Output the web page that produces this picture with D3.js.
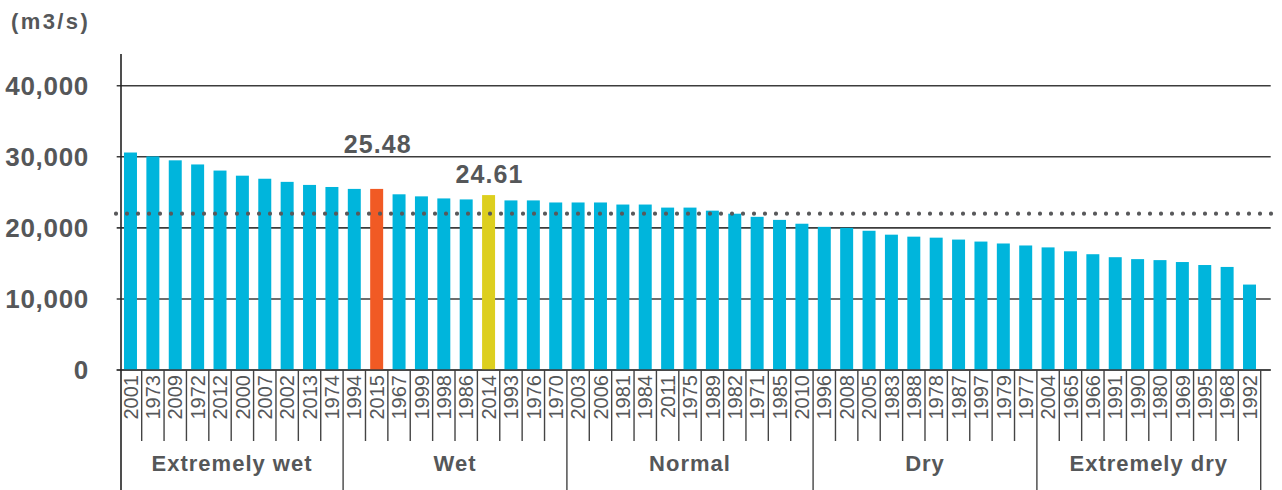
<!DOCTYPE html>
<html>
<head>
<meta charset="utf-8">
<script src="https://cdn.jsdelivr.net/npm/d3@7"></script>
<style>
  body { margin: 0; background: #fff; }
  svg { display: block; }
  text { font-family: "Liberation Sans", Arial, Helvetica, sans-serif; }
</style>
</head>
<body>
<svg id="chart" width="1282" height="490"></svg>
<script>
// Years ranked from the wettest to the driest
const years = [
  "2001","1973","2009","1972","2012","2000","2007","2002","2013","1974",
  "1994","2015","1967","1999","1998","1986","2014","1993","1976","1970",
  "2003","2006","1981","1984","2011","1975","1989","1982","1971","1985","2010",
  "1996","2008","2005","1983","1988","1978","1987","1997","1979","1977",
  "2004","1965","1966","1991","1990","1980","1969","1995","1968","1992"
];

// Mean flow of each year (m3/s)
const flows = [
  30600, 30050, 29500, 28920, 28060, 27340, 26910, 26470, 26040, 25750,
  25480, 25480, 24720, 24430, 24140, 24000, 24610, 23860, 23860, 23570,
  23570, 23570, 23280, 23280, 22850, 22850, 22420, 21990, 21550, 21120, 20580,
  20140, 20000, 19590, 19040, 18760, 18620, 18350, 18070, 17800, 17520,
  17250, 16700, 16290, 15870, 15600, 15460, 15190, 14770, 14500, 12020
];

// Hydrological classes and how many ranked years fall in each
const groups = ["Extremely wet", "Wet", "Normal", "Dry", "Extremely dry"];
const groupSizes = [10, 10, 11, 10, 10];

const yTicks = [0, 10000, 20000, 30000, 40000];
const meanFlow = 22000;
const highlighted = ["2015", "2014"];
const unitLabel = "(m3/s)";

// ---- drawing ----
const svg = d3.select("#chart");
const textColor = "#555759";
const barColor = "#00b5dc";
const highlightColor = { "2015": "#f15a24", "2014": "#ddcf1e" };
const labelLift = { "2015": 36, "2014": 12 };

const axisX = 121, gridLeft = 116.7, gridRight = 1270.7;

const x = d3.scaleBand()
  .domain(years)
  .range([119.3, 1260.7])
  .paddingInner(0.42)
  .paddingOuter(0.21);

const y = d3.scaleLinear().domain([0, 40000]).range([370, 85.7]);

const bw = x.bandwidth();
const step = x.step();
const gap = (step - bw) / 2;

// unit caption
svg.append("text")
  .attr("x", 11).attr("y", 29)
  .attr("font-size", 22).attr("font-weight", "bold")
  .attr("letter-spacing", 2.4)
  .attr("fill", textColor)
  .text(unitLabel);

// horizontal gridlines
svg.append("g").selectAll("line")
  .data(yTicks)
  .join("line")
  .attr("x1", gridLeft).attr("x2", gridRight)
  .attr("y1", d => y(d)).attr("y2", d => y(d))
  .attr("stroke", "#3c3c3c").attr("stroke-width", 1.6);

// y tick labels
const yAxis = svg.append("g")
  .attr("transform", "translate(89,0)")
  .call(d3.axisLeft(y).tickValues(yTicks).tickSize(0).tickPadding(0).tickFormat(d3.format(",")));
yAxis.select(".domain").remove();
yAxis.selectAll("text")
  .attr("font-size", 26).attr("font-weight", "bold")
  .attr("letter-spacing", 0.7)
  .attr("fill", textColor)
  .attr("font-family", "\"Liberation Sans\", Arial, sans-serif");

// bars
svg.append("g").selectAll("rect")
  .data(years.map((yr, i) => ({ yr, v: flows[i] })))
  .join("rect")
  .attr("x", d => x(d.yr))
  .attr("width", bw)
  .attr("y", d => y(d.v))
  .attr("height", d => y(0) - y(d.v))
  .attr("fill", d => highlightColor[d.yr] || barColor);

// mean flow dotted line
svg.append("line")
  .attr("x1", 116).attr("x2", 1282)
  .attr("y1", y(meanFlow)).attr("y2", y(meanFlow))
  .attr("stroke", "#58595b").attr("stroke-width", 4.2)
  .attr("stroke-linecap", "round")
  .attr("stroke-dasharray", "0 11");

// value labels above the highlighted years
svg.append("g").selectAll("text")
  .data(highlighted)
  .join("text")
  .attr("x", d => x(d) + bw / 2 + 1)
  .attr("y", d => y(flows[years.indexOf(d)]) - labelLift[d])
  .attr("text-anchor", "middle")
  .attr("font-size", 25).attr("font-weight", "bold")
  .attr("letter-spacing", 1.1)
  .attr("fill", textColor)
  .text(d => d3.format(".2f")(flows[years.indexOf(d)] / 1000));

// year labels (vertical)
svg.append("g").selectAll("text")
  .data(years)
  .join("text")
  .attr("transform", d => `translate(${x(d) + bw / 2},375) rotate(-90)`)
  .attr("text-anchor", "end")
  .attr("dy", "0.36em")
  .attr("font-size", 20)
  .attr("fill", textColor)
  .text(d => d);

// separators between year labels and between classes
const groupStarts = [0];
groupSizes.forEach(n => groupStarts.push(groupStarts[groupStarts.length - 1] + n));
const boundaryX = k => k === 0 ? axisX : x(years[k - 1]) + bw + gap;
const seps = d3.range(1, years.length + 1).map(k => ({
  x: boundaryX(k),
  major: groupStarts.includes(k)
}));
svg.append("g").selectAll("line")
  .data(seps)
  .join("line")
  .attr("x1", d => d.x).attr("x2", d => d.x)
  .attr("y1", 370).attr("y2", d => d.major ? 490 : 441)
  .attr("stroke", "#444").attr("stroke-width", 1.4);

// baseline and vertical axis
svg.append("line")
  .attr("x1", gridLeft).attr("x2", gridRight)
  .attr("y1", y(0)).attr("y2", y(0))
  .attr("stroke", "#3c3c3c").attr("stroke-width", 1.6);
svg.append("line")
  .attr("x1", axisX).attr("x2", axisX)
  .attr("y1", 54).attr("y2", 490)
  .attr("stroke", "#222").attr("stroke-width", 1.6);

// class names
svg.append("g").selectAll("text")
  .data(groups.map((g, i) => ({ g, a: boundaryX(groupStarts[i]), b: boundaryX(groupStarts[i + 1]) })))
  .join("text")
  .attr("x", d => (d.a + d.b) / 2)
  .attr("y", 471)
  .attr("text-anchor", "middle")
  .attr("font-size", 22).attr("font-weight", "bold")
  .attr("letter-spacing", 1)
  .attr("fill", textColor)
  .text(d => d.g);
</script>
</body>
</html>
